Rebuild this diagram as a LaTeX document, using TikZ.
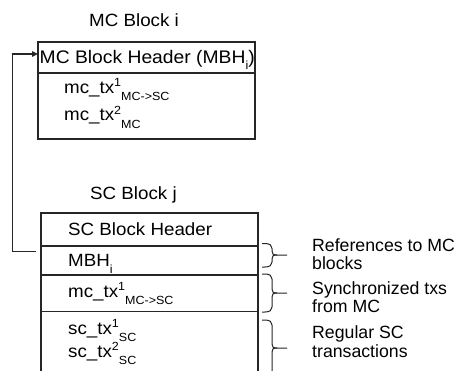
\documentclass[tikz,border=0pt]{standalone}
\usepackage{fontspec}
\setmainfont{Liberation Sans}[FakeStretch=1.06]
\newfontfamily\annfont{Liberation Sans}
\usetikzlibrary{arrows.meta}
\newcommand\bigtxt{\fontsize{17.7}{20}\selectfont}
\newcommand\hdrtxt{\fontsize{18.2}{20}\selectfont}
\newcommand\smtxt{\fontsize{11.8}{12}\selectfont}
\newcommand\supsub[2]{\raisebox{6.5pt}{\smtxt #1}\raisebox{-7.5pt}{\smtxt #2}}
\newcommand\lowsub[1]{\raisebox{-6.5pt}{\smtxt #1}}
\newcommand\annbrace[3]{%
  \draw[bracestyle] (262,#1) -- (265,#1) .. controls (270,#1) and (272,{#1+2}) .. (272,{#1+5})
    -- (272,{#2-4}) .. controls (272,{#2-1}) and (273,#2) .. (277,#2) -- (287,#2);
  \draw[bracestyle] (277,#2) .. controls (273,#2) and (272,{#2+1}) .. (272,{#2+4})
    -- (272,{#3-5}) .. controls (272,{#3-2}) and (270,#3) .. (265,#3) -- (262,#3);
}
\begin{document}
\begin{tikzpicture}[x=1pt,y=-1pt,
  boxline/.style={line width=1.1pt, draw=black!85},
  bracestyle/.style={line width=1pt, draw=black!85},
  txt/.style={anchor=base west, inner sep=0pt, font=\bigtxt},
  ann/.style={anchor=base west, inner sep=0pt, font=\annfont\fontsize{17.7}{18}\selectfont},
  rowbox/.style={boxline, rectangle, inner sep=0pt, minimum width=217pt}
]
\useasboundingbox[fill=white] (0,0) rectangle (457,371);

% ---- MC block ----
\node[txt] (mctitle) at (89,27) {MC Block i};
\node[rowbox, minimum height=31pt] (mchdr) at (146.5,57.5) {};
\node[rowbox, minimum height=66pt] (mcbody) at (146.5,106) {};
\node[txt, font=\hdrtxt] (mchdrtxt) at (39.5,63.5) {MC Block Header (MBH\lowsub{i})};
\node[txt] (mctx1) at (64,93.3) {mc\_tx\supsub{1}{MC->SC}};
\node[txt] (mctx2) at (64,121) {mc\_tx\supsub{2}{MC}};

% ---- SC block ----
\node[txt] (sctitle) at (90,199.5) {SC Block j};
\draw[boxline] (41,371) -- (41,213) -- (258,213) -- (258,371);
\draw[boxline] (41,246) -- (258,246);
\draw[boxline] (41,275) -- (258,275);
\draw[boxline] (41,311.5) -- (258,311.5);
\node[txt] (schdr) at (68,235) {SC Block Header};
\node[txt] (scmbh) at (68,266.7) {MBH\lowsub{i}};
\node[txt] (scmctx) at (68,297.3) {mc\_tx\supsub{1}{MC->SC}};
\node[txt] (sctx1) at (68,334) {sc\_tx\supsub{1}{SC}};
\node[txt] (sctx2) at (68,357) {sc\_tx\supsub{2}{SC}};

% ---- pointer from MBH_i to MC block header ----
\coordinate (ptrstart) at (36,251.5);
\coordinate (ptrend) at (38,54);
\draw[line width=1.1pt, draw=black!85, -{Triangle[length=6pt,width=5.5pt]}]
  (ptrstart) -- (12.5,251.5) |- (ptrend);

% ---- braces and annotations ----
\annbrace{243.5}{255}{267}
\annbrace{274}{293}{312}
\annbrace{320}{348}{376}
\node[ann] (a1) at (312,251) {References to MC};
\node[ann] (a1b) at (312,269) {blocks};
\node[ann] (a2) at (312,294) {Synchronized txs};
\node[ann] (a2b) at (312,312) {from MC};
\node[ann] (a3) at (312,338) {Regular SC};
\node[ann] (a3b) at (312,357) {transactions};
\end{tikzpicture}
\end{document}
